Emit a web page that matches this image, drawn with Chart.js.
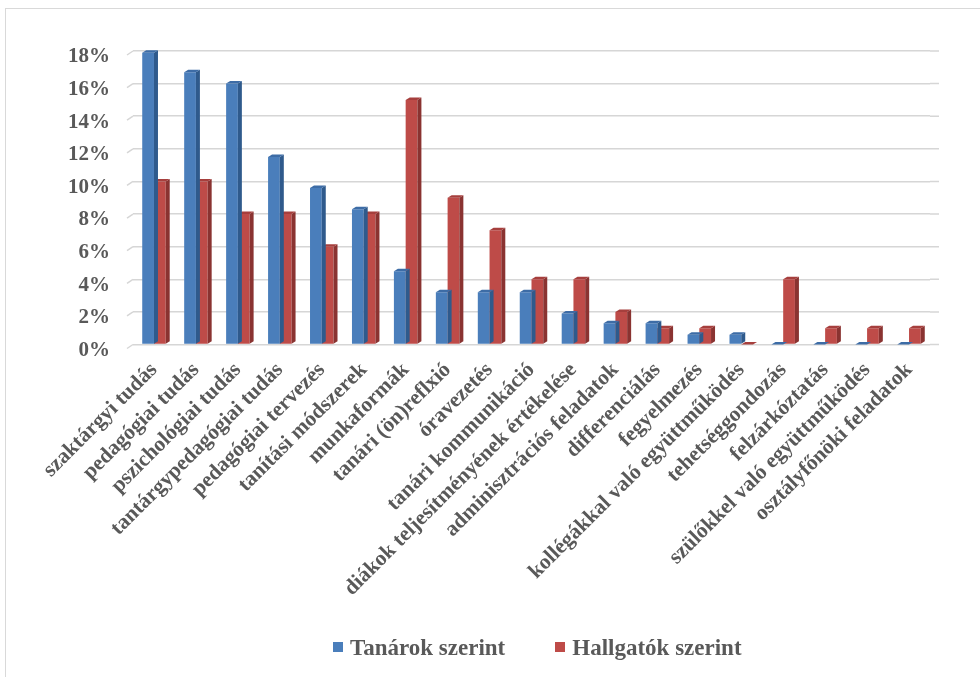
<!DOCTYPE html>
<html>
<head>
<meta charset="utf-8">
<script src="https://cdn.jsdelivr.net/npm/chart.js@4.4.0/dist/chart.umd.min.js"></script>
<style>
    html, body { margin: 0; padding: 0; background: #fff; overflow: hidden; }
    #wrap { position: relative; width: 980px; height: 677px; }
    #frame { position: absolute; left: 5px; top: 8px; width: 1000px; height: 700px; border: 1.5px solid #d9d9d9; }
    #chart { position: absolute; left: 0; top: 0; }
    #legend { position: absolute; left: 333px; top: 633px; height: 28px; font: bold 23px "Liberation Serif", "Times New Roman", serif; color: #595959; white-space: nowrap; }
    #legend span.item { display: inline-block; vertical-align: middle; }
    #legend span.box { display: inline-block; width: 10px; height: 10px; margin-right: 7px; vertical-align: middle; position: relative; top: -2px; }
</style>
</head>
<body>
<div id="wrap">
    <div id="frame"></div>
    <canvas id="chart" width="980" height="677"></canvas>
    <div id="legend"></div>
</div>
<script>
const categories = [
    'szaktárgyi tudás', 'pedagógiai tudás', 'pszichológiai tudás', 'tantárgypedagógiai tudás',
    'pedagógiai tervezés', 'tanítási módszerek', 'munkaformák', 'tanári (ön)reflxió',
    'óravezetés', 'tanári kommunikáció', 'diákok teljesítményének értékelése',
    'adminisztrációs feladatok', 'differenciálás', 'fegyelmezés', 'kollégákkal való együttműködés',
    'tehetséggondozás', 'felzárkóztatás', 'szülőkkel való együttműködés', 'osztályfőnöki feladatok'
];
const seriesNames = ['Tanárok szerint', 'Hallgatók szerint'];
const tanarok = [17.9, 16.7, 16.0, 11.5, 9.6, 8.3, 4.5, 3.2, 3.2, 3.2, 1.9, 1.3, 1.3, 0.6, 0.6, 0, 0, 0, 0];
const hallgatok = [10, 10, 8, 8, 6, 8, 15, 9, 7, 4, 4, 2, 1, 1, 0, 4, 1, 1, 1];
const yTicks = [0, 2, 4, 6, 8, 10, 12, 14, 16, 18];

const textColor = '#595959';
const fontFamily = '"Liberation Serif", "Times New Roman", serif';
const colors = [
    { front: '#4a7ebb', side: '#2f5a8c', top: '#3d6ca6' },
    { front: '#be4b48', side: '#8a3331', top: '#a63f3d' }
];

// fake 3d depth: side + top face drawn after each dataset
const depthPlugin = {
    id: 'depth',
    afterDatasetDraw(chart, args) {
        const ctx = chart.ctx;
        const c = colors[args.index];
        const dx = 4, dy = 2.5;
        args.meta.data.forEach(function(bar) {
            const p = bar.getProps(['x', 'y', 'base', 'width'], true);
            const l = p.x - p.width / 2, r = p.x + p.width / 2;
            ctx.save();
            ctx.fillStyle = c.side;
            ctx.beginPath();
            ctx.moveTo(r, p.base);
            ctx.lineTo(r, p.y);
            ctx.lineTo(r + dx, p.y - dy);
            ctx.lineTo(r + dx, p.base - dy);
            ctx.closePath();
            ctx.fill();
            ctx.fillStyle = c.top;
            ctx.beginPath();
            ctx.moveTo(l, p.y);
            ctx.lineTo(r, p.y);
            ctx.lineTo(r + dx, p.y - dy);
            ctx.lineTo(l + dx, p.y - dy);
            ctx.closePath();
            ctx.fill();
            ctx.restore();
        });
    }
};

// grid line stubs: small diagonal at the left, short extension at the right
const gridStubs = {
    id: 'gridStubs',
    beforeDatasetsDraw(chart) {
        const ctx = chart.ctx;
        const area = chart.chartArea;
        const yScale = chart.scales.y;
        ctx.save();
        ctx.strokeStyle = '#d6d6d6';
        ctx.lineWidth = 1.5;
        yTicks.forEach(function(v) {
            const y = yScale.getPixelForValue(v);
            ctx.beginPath();
            ctx.moveTo(area.left - 6, y + 4);
            ctx.lineTo(area.left, y);
            ctx.moveTo(area.right, y);
            ctx.lineTo(area.right + 9, y);
            ctx.stroke();
        });
        ctx.restore();
    }
};

new Chart(document.getElementById('chart'), {
    type: 'bar',
    data: {
        labels: categories,
        datasets: [
            { label: seriesNames[0], data: tanarok, backgroundColor: colors[0].front },
            { label: seriesNames[1], data: hallgatok, backgroundColor: colors[1].front }
        ]
    },
    options: {
        responsive: false,
        animation: false,
        devicePixelRatio: 1,
        layout: { padding: { left: 0, right: 50, top: 51, bottom: 0 } },
        datasets: { bar: { barPercentage: 1, categoryPercentage: 0.56 } },
        plugins: { legend: { display: false }, tooltip: { enabled: false } },
        scales: {
            x: {
                grid: { display: false },
                border: { display: false },
                ticks: {
                    autoSkip: false,
                    minRotation: 45,
                    maxRotation: 45,
                    padding: 5,
                    color: textColor,
                    font: { family: fontFamily, size: 21.5, weight: 'bold' }
                },
                afterFit: function(scale) { scale.height = 677 - 344.5; }
            },
            y: {
                min: 0,
                max: 18,
                border: { display: false },
                grid: { color: '#d6d6d6', lineWidth: 1.5, drawTicks: false },
                afterBuildTicks: function(scale) {
                    scale.ticks = yTicks.map(function(v) { return { value: v }; });
                },
                afterFit: function(scale) { scale.width = 133; },
                ticks: {
                    padding: 23,
                    labelOffset: 6,
                    color: textColor,
                    font: { family: fontFamily, size: 21, weight: 'bold' },
                    callback: function(v) { return v + '%'; }
                }
            }
        }
    },
    plugins: [gridStubs, depthPlugin]
});

// legend as html below the chart
const legend = document.getElementById('legend');
seriesNames.forEach(function(name, i) {
    const item = document.createElement('span');
    item.className = 'item';
    item.style.marginRight = i === 0 ? '50px' : '0';
    const box = document.createElement('span');
    box.className = 'box';
    box.style.background = colors[i].front;
    item.appendChild(box);
    item.appendChild(document.createTextNode(name));
    legend.appendChild(item);
});
</script>
</body>
</html>
